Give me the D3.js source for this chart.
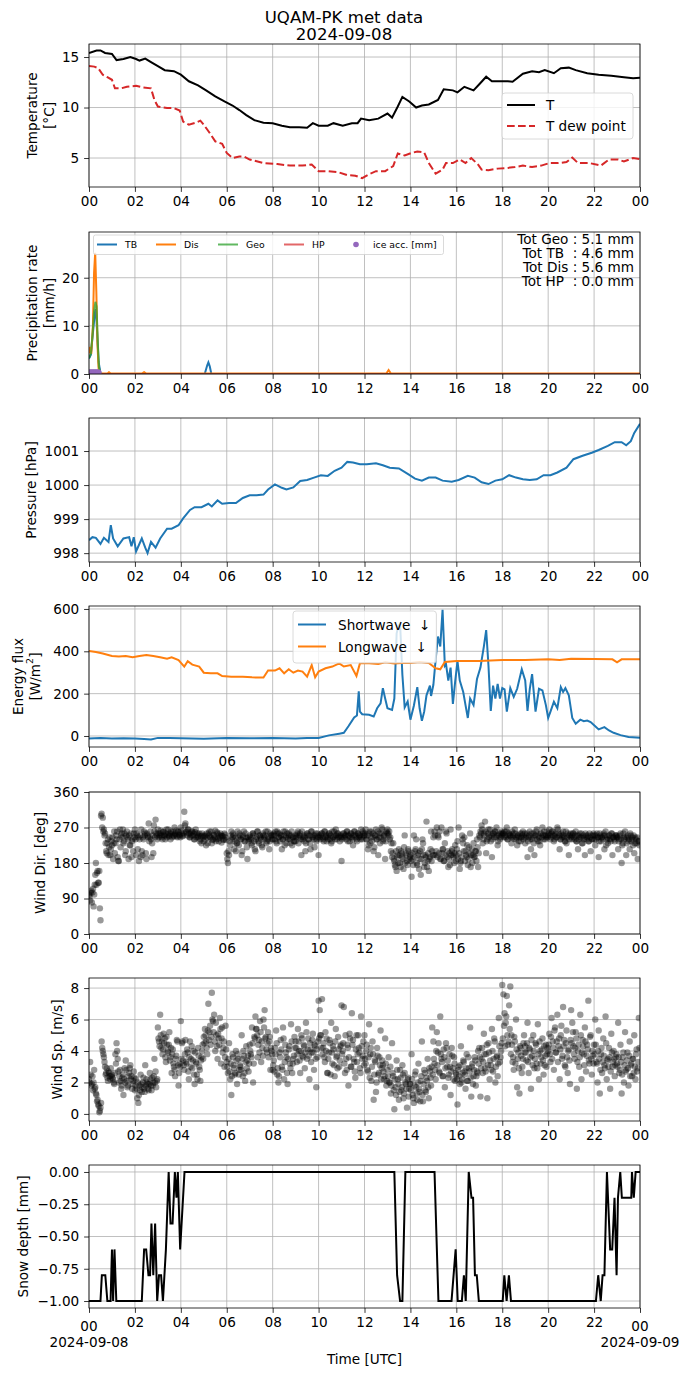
<!DOCTYPE html>
<html>
<head>
<meta charset="utf-8">
<script src="https://cdn.jsdelivr.net/npm/d3@7"></script>
<style>
  body { margin: 0; background: #fff; }
  svg text { font-family: "DejaVu Sans", sans-serif; fill: #000; }
</style>
</head>
<body>
<div id="chart"></div>
<script>
// ---- data (hours UTC) ----
const hourTicks = [0, 2, 4, 6, 8, 10, 12, 14, 16, 18, 20, 22, 24];
const hourLabels = ["00", "02", "04", "06", "08", "10", "12", "14", "16", "18", "20", "22", "00"];

const tempT = [[0,15.4],[0.33,15.65],[0.5,15.65],[0.7,15.4],[1.0,15.3],[1.2,14.7],[1.5,14.8],[1.8,15.0],[2.05,14.8],[2.2,14.65],[2.45,14.85],[2.7,14.5],[3.0,14.1],[3.3,13.7],[3.7,13.6],[4.0,13.25],[4.35,12.6],[4.75,12.2],[5.1,11.7],[5.5,11.1],[5.9,10.6],[6.25,10.2],[6.55,9.75],[6.85,9.25],[7.2,8.75],[7.6,8.5],[8.0,8.45],[8.4,8.2],[8.75,8.05],[9.15,8.05],[9.5,8.0],[9.75,8.45],[10.0,8.2],[10.4,8.2],[10.65,8.45],[11.05,8.2],[11.45,8.45],[11.7,8.45],[11.85,8.9],[12.2,8.75],[12.6,8.9],[13.0,9.4],[13.2,9.0],[13.45,10.1],[13.65,11.05],[13.95,10.6],[14.25,10.0],[14.5,10.2],[14.8,10.3],[15.2,10.75],[15.45,11.8],[15.85,11.7],[16.05,11.5],[16.35,12.05],[16.75,11.7],[17.0,12.3],[17.3,13.05],[17.55,12.6],[17.95,12.6],[18.25,12.6],[18.45,12.55],[18.9,13.35],[19.3,13.6],[19.6,13.5],[19.85,13.7],[20.25,13.4],[20.55,13.9],[20.9,13.95],[21.2,13.7],[21.7,13.4],[22.2,13.25],[22.75,13.15],[23.3,13.0],[23.7,12.9],[24,12.95]];

const tempDew = [[0,14.1],[0.23,14.05],[0.4,13.9],[0.6,13.25],[0.8,13.0],[1.0,12.75],[1.13,11.9],[1.4,11.9],[1.65,12.05],[2.05,12.15],[2.35,12.0],[2.7,11.9],[2.85,10.75],[3.0,10.1],[3.4,9.95],[3.7,9.95],[3.95,9.7],[4.1,8.6],[4.35,8.3],[4.65,8.5],[4.85,8.7],[5.0,8.3],[5.25,7.5],[5.5,6.65],[5.8,6.4],[6.0,5.5],[6.25,5.0],[6.55,5.15],[6.75,5.15],[7.0,4.85],[7.6,4.5],[8.2,4.4],[8.75,4.25],[9.3,4.25],[9.7,4.35],[10.0,3.7],[10.4,3.7],[10.85,3.6],[11.25,3.3],[11.6,3.25],[11.9,3.0],[12.2,3.4],[12.5,3.7],[12.9,3.7],[13.25,4.2],[13.45,5.45],[13.75,5.25],[14.05,5.5],[14.3,5.65],[14.6,5.55],[14.8,4.5],[15.1,3.45],[15.4,3.85],[15.55,4.5],[15.85,4.5],[16.15,4.85],[16.4,4.5],[16.65,5.0],[16.95,4.35],[17.1,3.85],[17.4,3.8],[17.8,3.95],[18.15,4.0],[18.55,4.1],[18.9,4.25],[19.3,4.1],[19.7,4.25],[20.05,4.5],[20.45,4.5],[20.8,4.6],[21.05,5.05],[21.3,4.5],[21.8,4.5],[22.3,4.25],[22.65,4.85],[23.05,4.85],[23.3,4.65],[23.7,5.0],[24,4.9]];

const precipTB = [[0,3.2],[0.08,4.0],[0.17,8.5],[0.25,12.5],[0.3,13.5],[0.35,9],[0.42,2.5],[0.5,0.1],[0.6,0],[5.04,0],[5.15,1.8],[5.2,2.4],[5.26,1.6],[5.33,0],[24,0]];
const precipDis = [[0,4.3],[0.05,5.6],[0.1,4.2],[0.17,10],[0.22,21],[0.27,25.2],[0.32,17],[0.37,6],[0.42,1],[0.5,0.1],[0.8,0.1],[0.87,0.35],[0.95,0.1],[2.3,0.1],[2.4,0.4],[2.5,0.1],[12.95,0.1],[13.05,0.8],[13.15,0.1],[24,0.1]];
const precipGeo = [[0,3.3],[0.08,4.2],[0.15,8],[0.22,13],[0.28,15],[0.33,14],[0.38,7],[0.43,1.5],[0.5,0],[24,0]];
const precipHP = [[0,0],[24,0]];
const iceAcc = [[0,0.3],[0.03,0.3],[0.06,0.3],[0.09,0.3],[0.12,0.3],[0.15,0.3],[0.18,0.3],[0.21,0.3],[0.24,0.3],[0.27,0.3],[0.3,0.3],[0.33,0.3],[0.36,0.3],[0.39,0.3],[0.42,0.3]];
const precipTotals = ["Tot Geo : 5.1 mm", "Tot TB  : 4.6 mm", "Tot Dis : 5.6 mm", "Tot HP  : 0.0 mm"];

const pressure = [[0,998.38],[0.15,998.47],[0.3,998.45],[0.5,998.27],[0.65,998.45],[0.85,998.33],[0.95,998.82],[1.05,998.43],[1.25,998.2],[1.5,998.43],[1.75,998.47],[1.85,998.2],[1.95,998.47],[2.05,998.05],[2.3,998.43],[2.45,998.16],[2.55,998.0],[2.7,998.33],[2.9,998.16],[3.1,998.43],[3.4,998.72],[3.6,998.72],[3.9,998.82],[4.1,999.02],[4.4,999.27],[4.6,999.35],[4.9,999.35],[5.2,999.45],[5.35,999.37],[5.6,999.55],[5.8,999.45],[6.1,999.47],[6.4,999.47],[6.7,999.62],[7.0,999.7],[7.3,999.7],[7.6,999.72],[7.8,999.87],[8.1,1000.02],[8.4,999.92],[8.6,999.87],[8.9,999.93],[9.2,1000.12],[9.5,1000.15],[9.8,1000.22],[10.1,1000.29],[10.4,1000.27],[10.7,1000.42],[11.0,1000.51],[11.25,1000.68],[11.5,1000.66],[11.8,1000.61],[12.1,1000.61],[12.5,1000.64],[12.8,1000.58],[13.1,1000.51],[13.5,1000.49],[13.9,1000.32],[14.2,1000.19],[14.5,1000.13],[14.8,1000.22],[15.1,1000.22],[15.4,1000.13],[15.8,1000.1],[16.1,1000.15],[16.5,1000.27],[16.8,1000.22],[17.1,1000.08],[17.4,1000.03],[17.7,1000.13],[18.0,1000.17],[18.3,1000.29],[18.6,1000.22],[18.9,1000.17],[19.2,1000.15],[19.5,1000.17],[19.8,1000.29],[20.1,1000.29],[20.4,1000.37],[20.8,1000.51],[21.1,1000.76],[21.5,1000.86],[21.9,1000.95],[22.2,1001.03],[22.6,1001.15],[22.9,1001.26],[23.2,1001.26],[23.4,1001.17],[23.6,1001.29],[23.75,1001.53],[24,1001.8]];

const shortwave = [[0,-12],[0.5,-10],[1,-12],[1.5,-11],[2,-12],[2.4,-14],[2.7,-16],[3,-9],[3.5,-10],[4,-11],[5,-13],[6,-10],[7,-11],[8,-9],[9,-12],[9.5,-10],[10,-9],[10.45,3],[10.9,11],[11.1,15],[11.3,46],[11.55,88],[11.67,97],[11.75,211],[11.8,115],[11.9,103],[12.2,100],[12.4,92],[12.55,131],[12.7,154],[12.8,226],[12.9,177],[13.0,131],[13.2,123],[13.3,177],[13.4,485],[13.48,520],[13.55,530],[13.65,289],[13.75,135],[13.88,163],[14.0,77],[14.15,143],[14.3,231],[14.4,131],[14.5,72],[14.6,115],[14.7,192],[14.85,238],[14.9,189],[15.0,242],[15.1,362],[15.2,470],[15.3,423],[15.4,596],[15.5,332],[15.55,340],[15.65,262],[15.75,323],[15.85,151],[15.95,258],[16.05,354],[16.15,262],[16.3,208],[16.4,146],[16.5,85],[16.6,177],[16.75,146],[16.9,269],[17.05,323],[17.2,423],[17.3,500],[17.4,332],[17.5,118],[17.6,238],[17.7,177],[17.8,246],[17.9,177],[18.0,226],[18.1,220],[18.2,115],[18.35,226],[18.5,185],[18.65,223],[18.85,315],[19.0,262],[19.1,118],[19.2,223],[19.3,292],[19.45,115],[19.6,223],[19.75,215],[19.9,146],[20.0,85],[20.1,115],[20.25,162],[20.4,131],[20.55,231],[20.65,208],[20.75,226],[20.9,192],[21.05,85],[21.2,58],[21.4,77],[21.55,70],[21.7,73],[21.85,66],[22.05,46],[22.2,31],[22.45,42],[22.65,26],[22.85,15],[23.15,4],[23.5,-5],[24,-8]];

const longwave = [[0,402],[0.3,397],[0.6,390],[1.0,378],[1.3,375],[1.6,378],[1.9,372],[2.2,378],[2.5,383],[2.8,378],[3.1,372],[3.4,365],[3.6,372],[3.9,359],[4.15,328],[4.3,353],[4.5,337],[4.8,328],[5.0,299],[5.3,296],[5.6,296],[5.8,283],[6.2,280],[6.7,280],[7.1,277],[7.6,276],[7.8,309],[8.1,309],[8.3,320],[8.5,296],[8.7,315],[8.9,299],[9.1,309],[9.3,304],[9.5,280],[9.7,335],[9.85,277],[10.0,304],[10.3,320],[10.6,328],[10.9,343],[11.1,328],[11.4,335],[11.65,283],[11.8,343],[12.2,343],[12.6,340],[12.9,348],[13.3,343],[13.6,345],[14.0,345],[14.4,350],[14.8,345],[15.1,320],[15.3,315],[15.5,350],[16.0,354],[17.0,354],[18.0,359],[19.0,359],[20.0,362],[20.5,359],[21.0,365],[22.0,364],[22.8,362],[23.0,348],[23.2,362],[24,362]];

// wind: 20 samples per hour (every 3 min), one row per hour
const windDir = [
  100,85,110,105,70,125,180,155,130,160,35,305,295,265,255,210,230,200,245,215,
  225,190,260,230,240,195,185,265,250,245,230,255,210,260,240,250,225,195,240,255,
  265,200,250,245,240,195,210,245,260,255,190,250,280,245,240,230,205,260,290,250,
  265,245,255,250,240,260,250,255,245,265,250,240,255,260,248,252,262,245,258,250,
  270,255,250,310,280,260,265,255,245,250,260,255,240,265,250,245,255,240,230,250,
  235,250,225,245,255,260,245,230,240,250,262,240,255,235,245,250,248,238,255,245,
  205,180,200,225,260,245,250,235,210,230,245,255,240,200,250,260,235,245,190,235,
  250,240,225,255,235,210,245,260,230,250,240,220,250,245,260,235,240,215,255,250,
  250,255,240,235,260,245,255,250,215,240,250,260,230,245,255,240,250,225,245,235,
  235,250,260,245,255,200,240,250,245,230,255,240,250,215,260,245,240,250,235,255,
  200,245,250,255,240,260,245,235,250,255,240,230,260,245,250,265,240,255,250,245,
  185,245,255,250,240,260,250,235,255,245,225,260,250,240,255,245,250,265,240,255,
  250,265,240,215,255,230,260,245,210,250,265,240,200,255,245,270,235,250,190,260,
  265,250,240,210,195,230,185,170,160,200,215,180,210,195,165,250,205,185,215,190,
  200,145,190,250,210,240,175,205,190,150,215,230,170,200,285,185,160,195,260,210,
  245,260,200,270,250,205,190,270,215,185,230,260,195,170,205,265,210,200,180,225,
  200,235,270,165,185,250,230,245,210,195,175,220,255,200,180,230,195,210,240,170,
  250,260,275,230,255,285,205,240,265,250,235,195,255,245,260,270,225,250,240,255,
  250,255,260,245,270,240,255,250,230,245,255,265,240,225,250,245,235,255,260,245,
  230,250,195,245,260,215,240,255,200,250,265,235,245,225,255,270,240,250,245,260,
  250,265,240,255,260,235,250,245,270,255,215,240,250,260,245,235,230,255,200,250,
  245,250,255,240,260,235,215,250,245,255,230,240,200,250,245,235,255,210,240,250,
  240,225,250,245,195,255,235,245,250,215,260,240,230,250,240,255,200,245,235,250,
  250,215,240,255,180,230,245,260,200,245,235,215,250,240,225,205,245,230,190,235
];
// samples half-way between the ones above
const windDirMid = [
  95,105,80,115,100,150,125,160,130,65,300,270,260,250,230,205,240,220,200,235,
  245,230,205,250,260,185,240,220,255,265,235,200,250,245,190,225,255,235,210,245,
  240,255,215,185,250,265,200,240,250,205,255,245,235,260,195,250,275,245,255,240,
  255,250,262,245,258,250,240,265,252,248,255,260,245,250,270,255,248,260,252,245,
  262,248,255,275,258,250,265,245,255,260,250,240,258,245,255,250,235,248,255,245,
  248,240,255,230,250,245,260,238,252,245,235,258,242,250,255,232,248,240,252,238,
  190,210,235,250,240,255,215,245,230,260,225,250,240,210,245,235,255,220,245,240,
  245,230,255,250,215,240,260,235,250,245,225,255,240,250,230,260,245,235,250,240,
  240,250,260,230,255,245,235,250,240,260,225,245,255,240,250,230,260,245,235,250,
  245,255,230,250,240,260,245,235,210,250,255,240,230,260,245,250,220,255,240,245,
  250,240,255,245,235,260,250,245,240,255,250,235,245,260,240,250,255,245,235,250,
  240,255,245,250,260,235,250,245,255,240,250,260,245,235,255,250,240,245,260,250,
  255,240,250,225,260,245,235,255,220,250,240,260,245,230,255,265,240,250,235,255,
  255,260,245,230,205,190,175,210,195,180,200,170,205,190,220,180,200,175,210,195,
  185,205,175,195,215,180,200,165,210,190,240,200,180,195,170,205,190,215,185,200,
  200,250,210,195,245,260,190,205,215,185,200,255,210,190,175,200,215,195,205,185,
  215,190,205,180,195,240,210,185,200,225,190,205,170,215,200,195,210,185,220,205,
  245,255,265,240,250,260,235,255,245,265,250,240,255,260,245,250,235,255,245,260,
  255,245,250,260,240,255,250,245,260,250,240,255,245,250,235,255,245,250,240,255,
  245,255,235,250,240,255,245,230,250,260,240,250,235,255,245,250,260,240,250,245,
  255,250,245,260,250,240,255,245,265,250,240,255,245,250,235,260,245,250,240,255,
  240,255,245,250,235,250,240,255,245,230,250,245,255,240,250,235,245,250,240,255,
  250,240,255,245,235,250,245,240,255,250,225,245,240,250,235,255,245,240,250,245,
  245,235,250,240,225,255,240,245,230,250,240,255,235,245,250,230,240,245,235,225
];
const windSpeed = [
  2.2,3.3,1.8,2.4,2.0,1.6,1.3,0.8,0.6,0.1,0.4,4.6,4.0,3.6,3.0,2.6,2.3,2.7,2.4,2.9,
  2.5,2.2,1.9,3.8,4.5,3.5,2.0,2.8,1.6,2.3,1.2,2.9,3.4,2.1,1.8,2.6,3.1,2.4,1.9,2.7,
  1.5,2.2,1.0,0.7,1.8,2.5,1.4,2.0,1.6,3.1,2.2,1.9,1.5,2.6,1.8,2.3,2.0,3.5,2.7,2.1,
  5.5,4.6,6.3,4.2,3.8,5.1,4.8,3.3,4.4,3.9,5.2,3.6,2.6,4.1,3.0,2.4,3.7,4.6,1.8,3.2,
  5.9,4.5,3.4,2.8,4.7,3.2,3.9,2.2,4.6,3.5,2.9,4.0,1.9,3.3,2.5,4.2,3.0,2.1,3.6,4.4,
  4.9,5.4,4.6,3.8,7.0,5.2,4.4,7.7,5.9,6.3,4.0,5.0,3.5,4.8,6.1,3.2,5.5,4.2,3.0,5.6,
  3.3,2.6,4.5,2.2,1.2,3.8,3.1,2.5,4.0,1.9,3.5,2.8,3.0,5.0,2.4,3.7,2.1,4.3,3.4,2.7,
  4.4,3.8,5.5,2.0,4.9,6.2,5.4,3.6,4.7,5.9,3.3,4.2,6.0,6.6,4.9,3.9,5.2,4.6,2.8,4.0,
  2.8,3.4,4.2,5.3,2.5,2.0,3.9,4.7,3.0,5.5,2.2,4.4,3.6,1.9,4.1,3.2,5.7,2.6,3.5,4.9,
  4.6,3.3,5.4,4.0,2.6,5.0,3.7,4.4,2.9,5.8,3.5,4.8,2.2,4.1,3.9,5.1,2.8,4.3,1.7,3.6,
  7.2,6.6,5.0,7.3,4.2,3.6,5.2,4.8,2.6,3.9,4.5,5.8,3.2,4.1,2.4,5.4,3.7,4.9,3.0,4.3,
  6.9,4.0,6.8,2.6,3.5,4.4,1.8,5.1,3.0,6.4,4.7,3.3,2.3,5.0,3.8,4.2,2.9,6.2,3.5,4.6,
  5.0,3.2,4.4,2.7,5.7,3.8,2.1,4.6,0.9,3.4,1.4,4.2,2.5,3.6,5.3,2.9,3.1,2.2,4.8,1.8,
  2.8,3.6,2.0,1.3,4.5,2.4,0.3,1.7,3.4,2.2,0.9,2.8,1.5,3.1,1.0,2.6,1.9,0.4,2.3,1.6,
  1.9,3.8,1.2,0.7,2.5,1.7,0.9,3.2,1.4,2.1,4.6,0.8,2.8,1.5,2.3,3.5,1.0,2.7,1.8,5.5,
  4.6,3.2,2.2,5.2,3.9,2.7,6.2,3.5,2.4,4.1,1.7,4.5,3.0,2.3,3.8,1.2,4.2,2.9,3.6,2.1,
  2.5,0.6,3.0,1.9,4.3,2.2,3.4,2.7,1.6,3.8,2.1,2.9,5.5,1.1,3.2,2.4,3.6,1.8,2.7,4.0,
  4.2,1.1,3.5,2.6,5.1,2.9,3.8,1.0,4.5,2.2,3.1,5.4,2.7,4.8,2.0,3.6,2.4,6.1,3.3,4.0,
  8.2,7.6,6.4,5.8,7.5,4.4,6.9,8.1,5.0,3.3,2.8,4.6,6.0,1.7,3.9,1.3,4.2,2.6,3.5,5.0,
  4.3,3.4,5.8,2.6,4.1,1.6,3.7,5.0,2.9,4.5,3.2,5.7,2.2,4.0,3.6,4.8,2.5,3.1,4.4,3.8,
  4.0,5.1,3.3,6.1,4.6,2.8,5.5,3.9,6.3,4.3,2.2,5.0,3.5,6.8,4.7,3.0,5.3,2.6,4.1,1.9,
  6.6,5.8,4.3,3.5,5.2,1.6,4.0,3.0,6.3,2.2,4.7,3.8,5.5,2.7,4.4,7.2,3.2,5.0,2.5,3.7,
  4.4,6.0,3.3,2.0,5.3,1.3,3.8,2.6,4.8,3.1,6.2,2.2,3.5,4.2,1.6,5.1,3.0,4.0,2.4,3.6,
  3.2,5.8,2.6,4.4,1.3,3.6,2.0,5.2,2.8,3.9,1.8,4.6,3.1,2.4,3.5,5.0,2.2,4.1,2.9,6.1
];
const windSpeedMid = [
  2.0,2.5,1.9,1.5,2.8,1.7,1.2,0.9,0.5,0.2,0.7,4.2,3.8,3.3,2.5,2.9,2.1,2.6,2.2,2.4,
  2.3,2.0,2.6,3.2,4.0,2.7,2.4,2.1,1.8,2.5,2.2,2.0,2.8,1.7,2.4,2.9,2.2,1.6,2.1,2.3,
  1.8,1.6,2.0,1.2,1.5,1.9,1.7,2.3,1.4,1.8,2.0,1.6,1.9,2.2,1.5,1.8,2.4,2.0,1.7,2.2,
  4.8,4.3,5.0,4.6,4.1,4.5,3.6,4.9,4.0,4.4,3.4,4.2,3.8,3.2,2.8,3.5,4.7,3.1,2.6,3.0,
  3.5,4.6,3.1,3.8,3.3,4.1,2.7,3.6,3.0,4.3,3.4,2.5,3.9,3.2,2.2,3.7,2.8,3.4,4.0,3.5,
  4.5,5.0,4.2,5.3,4.7,5.6,4.9,6.0,5.2,4.6,5.8,4.3,5.1,4.4,5.4,4.8,3.9,4.6,3.6,4.1,
  3.0,3.5,2.7,3.2,2.4,3.6,2.9,2.6,3.4,3.8,2.5,3.1,2.8,3.5,4.0,2.6,3.3,2.9,3.7,3.2,
  4.0,3.6,4.5,3.2,4.8,5.4,5.0,4.4,3.9,5.2,4.6,3.7,5.5,4.8,4.1,4.5,3.6,4.9,4.2,3.8,
  3.1,2.7,3.8,4.5,2.9,2.4,3.6,4.1,2.8,4.8,3.3,3.9,2.6,3.5,4.3,2.9,4.6,3.2,3.7,4.2,
  4.2,3.8,4.6,3.4,4.0,4.8,3.6,4.3,3.9,5.2,4.1,3.7,4.5,3.3,4.7,3.9,4.4,3.5,4.1,4.6,
  4.8,5.0,4.2,3.8,4.5,3.3,4.0,2.6,3.5,4.7,2.5,3.9,4.3,3.1,4.6,3.6,2.9,4.1,3.4,4.4,
  3.8,4.5,3.2,5.0,2.8,4.2,3.6,4.8,3.0,4.4,3.5,2.7,4.1,3.3,5.0,3.9,2.6,4.3,3.7,3.1,
  3.5,4.0,2.8,3.6,2.3,4.2,3.0,3.8,2.5,3.3,2.0,3.7,2.6,3.1,2.2,3.4,2.7,2.4,3.2,2.1,
  2.4,2.0,3.0,1.8,2.6,1.5,2.2,1.2,2.8,1.9,1.4,2.3,1.7,2.5,1.3,2.0,1.6,2.2,1.1,1.9,
  1.5,2.2,1.0,1.8,2.7,1.3,2.0,1.6,0.8,2.4,1.2,1.9,2.6,1.4,2.1,1.7,2.9,2.3,3.0,2.5,
  3.5,2.8,4.0,3.1,4.5,2.6,3.8,3.3,2.4,3.6,2.9,4.2,3.4,2.5,3.0,2.7,3.7,2.2,3.2,2.6,
  2.2,2.8,2.4,3.1,2.0,2.6,3.3,2.5,2.9,2.1,3.6,2.7,2.3,3.0,1.9,2.8,3.4,2.4,2.6,3.2,
  3.6,2.9,4.2,3.3,3.8,2.7,4.4,3.1,3.9,3.4,2.8,4.0,3.5,4.6,3.0,3.7,3.2,4.3,3.6,4.5,
  4.8,5.6,4.3,6.2,5.0,4.6,5.4,3.8,4.4,3.6,4.9,3.2,4.1,3.5,2.9,4.3,3.7,3.0,4.5,3.9,
  3.9,4.5,3.3,4.2,3.6,4.7,3.1,4.0,3.5,4.4,2.9,3.8,4.6,3.2,4.1,3.4,4.3,3.7,3.0,4.2,
  4.4,3.8,4.9,3.5,4.2,5.3,3.9,4.6,3.3,4.8,4.1,5.6,3.7,4.3,3.1,4.5,3.6,4.0,3.4,4.7,
  4.5,5.2,3.8,4.2,4.8,3.3,4.4,3.6,5.0,3.9,4.3,3.1,4.6,3.7,4.1,3.4,4.9,3.5,4.0,3.2,
  3.8,4.4,3.2,4.0,3.5,2.8,4.2,3.3,3.7,2.9,4.5,3.4,3.0,3.6,2.7,3.9,3.3,3.5,3.1,3.8,
  3.0,3.6,2.8,3.3,2.5,3.9,3.1,2.7,3.4,2.9,3.7,2.4,3.2,3.5,2.6,3.0,3.8,2.7,3.3,4.2
];

const snowDepth = [[0,-1],[0.5,-1],[0.56,-0.8],[0.71,-0.8],[0.8,-1],[0.94,-1],[1.0,-0.6],[1.05,-1],[1.11,-0.6],[1.19,-1],[2.3,-1],[2.4,-0.6],[2.49,-0.6],[2.59,-0.8],[2.66,-0.8],[2.72,-0.4],[2.8,-0.8],[2.88,-0.4],[2.97,-1],[3.05,-0.8],[3.14,-0.8],[3.22,-1],[3.35,-0.6],[3.47,0],[3.55,-0.4],[3.64,-0.4],[3.74,0],[3.81,-0.2],[3.87,0],[3.97,-0.6],[4.16,0],[13.3,0],[13.42,-0.8],[13.55,-1],[13.65,-1],[13.78,0],[15.05,0],[15.22,-1],[15.79,-1],[15.97,-0.6],[16.06,-1],[16.24,-1],[16.33,-0.8],[16.41,-1],[16.54,0],[16.66,-0.2],[16.73,-0.2],[16.81,-0.8],[16.89,-0.8],[16.98,-1],[18.02,-1],[18.09,-0.8],[18.19,-1],[18.29,-0.8],[18.38,-1],[22.08,-1],[22.18,-0.8],[22.29,-1],[22.37,-0.8],[22.45,-0.8],[22.56,0],[22.7,-0.6],[22.79,-0.6],[22.89,-0.2],[22.98,-0.8],[23.04,-0.2],[23.14,0],[23.21,-0.2],[23.62,-0.2],[23.65,0],[23.73,-0.2],[23.81,0],[24,0]];

// ---- layout ----
const W = 690, H = 1377;
const FS = 13.6;
const svg = d3.select("#chart").append("svg")
    .attr("width", W).attr("height", H)
    .style("display", "block");

const x = d3.scaleLinear().domain([0, 24]).range([89, 640]);

let clipId = 0;
function makePanel(top, bottom, domain, ticks) {
    const y = d3.scaleLinear().domain(domain).range([bottom, top]);
    const g = svg.append("g");
    const id = "clip" + (clipId++);
    svg.append("clipPath").attr("id", id)
        .append("rect").attr("x", 89).attr("y", top).attr("width", 551).attr("height", bottom - top);

    // grid
    g.selectAll(".vgrid").data(hourTicks).join("line")
        .attr("x1", d => x(d)).attr("x2", d => x(d))
        .attr("y1", top).attr("y2", bottom)
        .attr("stroke", "#b0b0b0").attr("stroke-width", 0.8);
    g.selectAll(".hgrid").data(ticks).join("line")
        .attr("x1", 89).attr("x2", 640)
        .attr("y1", d => y(d)).attr("y2", d => y(d))
        .attr("stroke", "#b0b0b0").attr("stroke-width", 0.8);

    const plot = g.append("g").attr("clip-path", `url(#${id})`);
    const over = svg.append("g");
    return { y, g, plot, over, top, bottom };
}

function finishPanel(p, ticks, fmt, xfmt) {
    const ax = p.over.append("g").attr("transform", `translate(0,${p.bottom})`)
        .call(d3.axisBottom(x).tickValues(hourTicks).tickFormat(xfmt || ((d, i) => hourLabels[i]))
            .tickSize(4.9).tickPadding(4.9));
    const ay = p.over.append("g").attr("transform", "translate(89,0)")
        .call(d3.axisLeft(p.y).tickValues(ticks).tickFormat(fmt)
            .tickSize(4.9).tickPadding(4.9));
    [ax, ay].forEach(a => {
        a.select(".domain").remove();
        a.selectAll("line").attr("stroke", "#000").attr("stroke-width", 0.8);
        a.selectAll("text").style("font-size", FS + "px").attr("fill", "#000")
            .style("font-family", '"DejaVu Sans", sans-serif');
    });
    p.over.append("rect").attr("x", 89).attr("y", p.top)
        .attr("width", 551).attr("height", p.bottom - p.top)
        .attr("fill", "none").attr("stroke", "#000").attr("stroke-width", 0.8);
}

function ylabel(lines, xs, yc) {
    lines.forEach((ln, i) => {
        const t = svg.append("text")
            .attr("transform", `translate(${xs[i]},${yc}) rotate(-90)`)
            .attr("text-anchor", "middle")
            .attr("dominant-baseline", "central")
            .style("font-size", FS + "px");
        if (Array.isArray(ln)) {
            ln.forEach(part => {
                const s = t.append("tspan").text(part.t);
                if (part.sup) s.attr("baseline-shift", "super").style("font-size", (FS * 0.7) + "px");
            });
        } else {
            t.text(ln);
        }
    });
}

const lineGen = y => d3.line().x(d => x(d[0])).y(d => y(d[1]));

function scatter(p, values, offset) {
    p.plot.append("g").selectAll("circle").data(values).join("circle")
        .attr("cx", (d, i) => x(i / 20 + offset)).attr("cy", d => p.y(d)).attr("r", 3.2)
        .attr("fill", "#000").attr("fill-opacity", 0.4);
}

// ---- title ----
svg.append("text").attr("x", 344).attr("y", 22.5).attr("text-anchor", "middle")
    .style("font-size", "16.6px").text("UQAM-PK met data");
svg.append("text").attr("x", 344).attr("y", 39.5).attr("text-anchor", "middle")
    .style("font-size", "16.6px").text("2024-09-08");

// ---- panel 1: temperature ----
const t1 = [5, 10, 15];
const p1 = makePanel(44, 187, [2.13, 16.29], t1);
p1.plot.append("path").datum(tempT).attr("d", lineGen(p1.y))
    .attr("fill", "none").attr("stroke", "#000").attr("stroke-width", 2);
p1.plot.append("path").datum(tempDew).attr("d", lineGen(p1.y))
    .attr("fill", "none").attr("stroke", "#d62728").attr("stroke-width", 2)
    .attr("stroke-dasharray", "7.7,3.3");
finishPanel(p1, t1, d => d);
ylabel(["Temperature", "[°C]"], [31.5, 48.5], 115.5);

// legend 1
{
    const lg = p1.over.append("g");
    lg.append("rect").attr("x", 502).attr("y", 93).attr("width", 131).attr("height", 46)
        .attr("rx", 3).attr("fill", "#fff").attr("fill-opacity", 0.8)
        .attr("stroke", "#d0d0d0").attr("stroke-width", 0.8);
    const items = [
        { label: "T", color: "#000", dash: null },
        { label: "T dew point", color: "#d62728", dash: "7.7,3.3" }
    ];
    items.forEach((it, i) => {
        const yy = 105 + i * 21;
        lg.append("line").attr("x1", 507).attr("x2", 535).attr("y1", yy).attr("y2", yy)
            .attr("stroke", it.color).attr("stroke-width", 2)
            .attr("stroke-dasharray", it.dash);
        lg.append("text").attr("x", 546).attr("y", yy).attr("dominant-baseline", "central")
            .style("font-size", FS + "px").text(it.label);
    });
}

// ---- panel 2: precipitation ----
const t2 = [0, 10, 20];
const p2 = makePanel(232, 374, [0, 29.5], t2);
const precipSeries = [
    { name: "TB", data: precipTB, color: "#1f77b4", op: 1 },
    { name: "Dis", data: precipDis, color: "#ff7f0e", op: 1 },
    { name: "Geo", data: precipGeo, color: "#2ca02c", op: 0.75 },
    { name: "HP", data: precipHP, color: "#d62728", op: 0.7 }
];
precipSeries.forEach(s => {
    p2.plot.append("path").datum(s.data).attr("d", lineGen(p2.y))
        .attr("fill", "none").attr("stroke", s.color).attr("stroke-width", 2)
        .attr("stroke-opacity", s.op);
});
p2.plot.selectAll(".ice").data(iceAcc).join("circle")
    .attr("cx", d => x(d[0])).attr("cy", d => p2.y(d[1])).attr("r", 3)
    .attr("fill", "#9467bd");
finishPanel(p2, t2, d => d);
ylabel(["Precipitation rate", "[mm/h]"], [31.5, 48.5], 303);

{
    const lg = p2.over.append("g");
    lg.append("rect").attr("x", 93.5).attr("y", 235).attr("width", 350).attr("height", 19.5)
        .attr("rx", 2).attr("fill", "#fff").attr("fill-opacity", 0.8)
        .attr("stroke", "#d0d0d0").attr("stroke-width", 0.8);
    const lx = [97, 156, 218, 284];
    precipSeries.forEach((s, i) => {
        lg.append("line").attr("x1", lx[i]).attr("x2", lx[i] + 20).attr("y1", 244.5).attr("y2", 244.5)
            .attr("stroke", s.color).attr("stroke-width", 2).attr("stroke-opacity", s.op);
        lg.append("text").attr("x", lx[i] + 28).attr("y", 244.5).attr("dominant-baseline", "central")
            .style("font-size", "9.3px").text(s.name);
    });
    lg.append("circle").attr("cx", 356).attr("cy", 244.5).attr("r", 2.8).attr("fill", "#9467bd");
    lg.append("text").attr("x", 373).attr("y", 244.5).attr("dominant-baseline", "central")
        .style("font-size", "9.3px").text("ice acc. [mm]");
}
precipTotals.forEach((s, i) => {
    p2.over.append("text").attr("x", 634).attr("y", 244 + i * 13.9)
        .attr("text-anchor", "end").style("font-size", FS + "px")
        .style("white-space", "pre").text(s);
});

// ---- panel 3: pressure ----
const t3 = [998, 999, 1000, 1001];
const p3 = makePanel(418, 562, [997.74, 1001.97], t3);
p3.plot.append("path").datum(pressure).attr("d", lineGen(p3.y))
    .attr("fill", "none").attr("stroke", "#1f77b4").attr("stroke-width", 2);
finishPanel(p3, t3, d => d);
ylabel(["Pressure [hPa]"], [30.5], 490);

// ---- panel 4: radiation ----
const t4 = [0, 200, 400, 600];
const p4 = makePanel(606, 747, [-52, 614], t4);
p4.plot.append("path").datum(shortwave).attr("d", lineGen(p4.y))
    .attr("fill", "none").attr("stroke", "#1f77b4").attr("stroke-width", 2);
p4.plot.append("path").datum(longwave).attr("d", lineGen(p4.y))
    .attr("fill", "none").attr("stroke", "#ff7f0e").attr("stroke-width", 2);
finishPanel(p4, t4, d => d);
ylabel(["Energy flux", [{ t: "[W/m" }, { t: "2", sup: true }, { t: "]" }]], [17.5, 35], 676.5);

{
    const lg = p4.over.append("g");
    const items = [
        { label: "Shortwave  ↓", color: "#1f77b4" },
        { label: "Longwave  ↓", color: "#ff7f0e" }
    ];
    const box = lg.append("rect").attr("x", 293).attr("y", 611).attr("height", 52)
        .attr("rx", 3).attr("fill", "#fff").attr("fill-opacity", 0.8)
        .attr("stroke", "#d0d0d0").attr("stroke-width", 0.8);
    let maxW = 0;
    items.forEach((it, i) => {
        const yy = 624.5 + i * 22;
        lg.append("line").attr("x1", 298).attr("x2", 326).attr("y1", yy).attr("y2", yy)
            .attr("stroke", it.color).attr("stroke-width", 2);
        const tx = lg.append("text").attr("x", 338).attr("y", yy).attr("dominant-baseline", "central")
            .style("font-size", FS + "px").style("white-space", "pre").text(it.label);
        maxW = Math.max(maxW, tx.node().getComputedTextLength());
    });
    box.attr("width", 338 + maxW + 6 - 293);
}

// ---- panel 5: wind direction ----
const t5 = [0, 90, 180, 270, 360];
const p5 = makePanel(792, 934, [0, 360], t5);
scatter(p5, windDir, 0);
scatter(p5, windDirMid, 1 / 40);
finishPanel(p5, t5, d => d);
ylabel(["Wind Dir. [deg]"], [39.5], 863);

// ---- panel 6: wind speed ----
const t6 = [0, 2, 4, 6, 8];
const p6 = makePanel(978, 1121, [-0.45, 8.64], t6);
scatter(p6, windSpeed, 0);
scatter(p6, windSpeedMid, 1 / 40);
finishPanel(p6, t6, d => d);
ylabel(["Wind Sp. [m/s]"], [56.5], 1049.5);

// ---- panel 7: snow depth ----
const t7 = [-1, -0.75, -0.5, -0.25, 0];
const p7 = makePanel(1165, 1308, [-1.054, 0.054], t7);
p7.plot.append("path").datum(snowDepth).attr("d", lineGen(p7.y))
    .attr("fill", "none").attr("stroke", "#000").attr("stroke-width", 2);
finishPanel(p7, t7, d3.format(".2f"), (d, i) => (i === 0 || i === 12) ? "" : hourLabels[i]);
ylabel(["Snow depth [mm]"], [23], 1236.5);

const endLabels = [
    { h: 0, top: "00", bottom: "2024-09-08" },
    { h: 24, top: "00", bottom: "2024-09-09" }
];
endLabels.forEach(e => {
    svg.append("text").attr("x", x(e.h)).attr("y", 1331).attr("text-anchor", "middle")
        .style("font-size", FS + "px").text(e.top);
    svg.append("text").attr("x", x(e.h)).attr("y", 1347).attr("text-anchor", "middle")
        .style("font-size", FS + "px").text(e.bottom);
});
svg.append("text").attr("x", 364.5).attr("y", 1364).attr("text-anchor", "middle")
    .style("font-size", FS + "px").text("Time [UTC]");
</script>
</body>
</html>
